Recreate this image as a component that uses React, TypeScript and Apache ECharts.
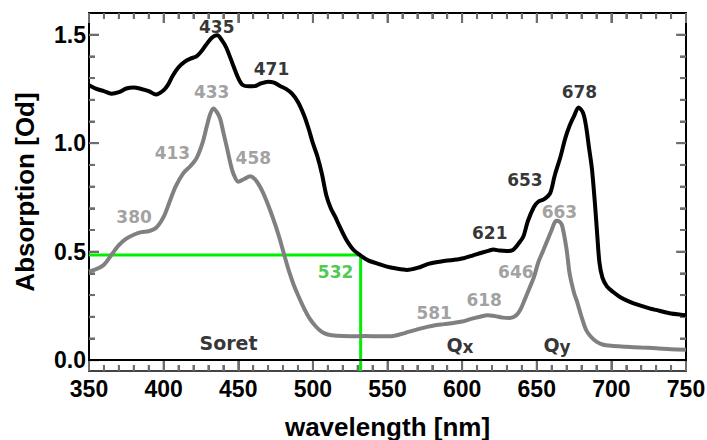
import React, { useEffect, useRef } from "react";
import * as echarts from "echarts";

// Black spectrum (wavelength nm, absorption Od)
const blackX = [350, 355, 360, 365, 370, 375, 380, 385, 390, 395, 400, 403, 406, 410, 414, 418, 422, 426, 430, 433, 436, 439, 442, 446, 450, 453, 457, 461, 465, 470, 474, 478, 482, 486, 490, 494, 497, 500, 503, 506, 509, 512, 515, 518, 522, 527, 532, 537, 542, 549, 556, 563, 570, 578, 586, 594, 601, 607, 613, 618, 621, 625, 630, 634, 637, 641, 644, 648, 651, 655, 659, 662, 666, 669, 672, 675, 678, 681, 683, 685, 687, 689, 690.5, 692, 694, 697, 701, 706, 712, 718, 725, 732, 740, 746, 750];
const blackY = [1.267, 1.25, 1.24, 1.228, 1.235, 1.252, 1.257, 1.25, 1.24, 1.224, 1.244, 1.27, 1.31, 1.35, 1.375, 1.39, 1.4, 1.43, 1.468, 1.49, 1.497, 1.475, 1.44, 1.37, 1.3, 1.268, 1.262, 1.263, 1.275, 1.283, 1.279, 1.264, 1.25, 1.228, 1.19, 1.13, 1.07, 1.0, 0.94, 0.86, 0.76, 0.7, 0.66, 0.615, 0.56, 0.51, 0.482, 0.46, 0.448, 0.432, 0.422, 0.416, 0.425, 0.445, 0.455, 0.462, 0.47, 0.482, 0.495, 0.505, 0.51, 0.505, 0.503, 0.508, 0.53, 0.57, 0.64, 0.705, 0.73, 0.742, 0.77, 0.85, 0.94, 1.02, 1.08, 1.125, 1.165, 1.14, 1.08, 0.98, 0.88, 0.72, 0.58, 0.45, 0.38, 0.34, 0.315, 0.29, 0.27, 0.255, 0.24, 0.228, 0.215, 0.21, 0.207];

// Gray spectrum
const grayX = [350, 355, 360, 365, 370, 375, 380, 385, 390, 395, 400, 404, 408, 413, 418, 422, 426, 429, 431, 433.3, 436, 438, 440, 442.3, 445, 447, 450, 454, 458, 461, 464.6, 468, 471.3, 475, 478, 481, 484, 487, 490, 494, 498, 502, 506, 510, 516, 525, 535, 545, 552, 558, 564, 570, 576, 581, 588, 595, 600, 606, 612, 617, 622, 627, 632, 636, 639, 642, 645, 648, 651, 654, 657, 660, 663, 665, 667, 670, 672, 675, 677, 680, 683, 686, 690, 694, 700, 710, 720, 730, 740, 750];
const grayY = [0.408, 0.42, 0.44, 0.485, 0.53, 0.56, 0.578, 0.59, 0.594, 0.61, 0.66, 0.73, 0.8, 0.86, 0.895, 0.93, 1.0, 1.08, 1.13, 1.16, 1.14, 1.11, 1.05, 0.983, 0.9, 0.855, 0.822, 0.835, 0.848, 0.835, 0.799, 0.75, 0.692, 0.62, 0.554, 0.48, 0.41, 0.35, 0.3, 0.24, 0.19, 0.155, 0.13, 0.118, 0.112, 0.11, 0.111, 0.11, 0.11, 0.118, 0.13, 0.142, 0.152, 0.16, 0.166, 0.172, 0.178, 0.19, 0.2, 0.207, 0.203, 0.196, 0.194, 0.205, 0.232, 0.28, 0.33, 0.38, 0.45, 0.5, 0.55, 0.6, 0.642, 0.64, 0.62, 0.51, 0.4, 0.31, 0.27, 0.2, 0.14, 0.11, 0.085, 0.072, 0.066, 0.062, 0.058, 0.055, 0.05, 0.048];

// Green marker (532 nm laser line)
const greenX = [350, 532, 532];
const greenY = [0.485, 0.485, -0.05];

// Peak annotations: [wavelength, absorption, text]
const blackPeaks = [
  [435.6, 1.534, "435"],
  [472.3, 1.344, "471"],
  [618.5, 0.585, "621"],
  [642.1, 0.83, "653"],
  [678.6, 1.236, "678"],
];
const grayPeaks = [
  [380.2, 0.661, "380"],
  [405.9, 0.953, "413"],
  [432.2, 1.236, "433"],
  [460.1, 0.93, "458"],
  [581.3, 0.217, "581"],
  [614.8, 0.275, "618"],
  [636.0, 0.408, "646"],
  [665.2, 0.684, "663"],
];
const greenLabels = [[515.2, 0.408, "532"]];
const bandLabels = [
  [443.5, 0.079, "Soret"],
  [598.6, 0.071, "Q{s|x}"],
  [663.6, 0.071, "Q{s|y}"],
];

// Axis ticks
const xMin = 350;
const xMax = 750;
const xMajor = 50;
const xMinorSplit = 5;
const xMajorTicks = [350, 400, 450, 500, 550, 600, 650, 700, 750];
const xMinorTicks = [360, 370, 380, 390, 410, 420, 430, 440, 460, 470, 480, 490, 510, 520, 530, 540, 560, 570, 580, 590, 610, 620, 630, 640, 660, 670, 680, 690, 710, 720, 730, 740];
const yMin = -0.05;
const yMax = 1.6;
const yMajorTicks = [0, 0.5, 1.0, 1.5];
const yMinorTicks = [0.1, 0.2, 0.3, 0.4, 0.6, 0.7, 0.8, 0.9, 1.1, 1.2, 1.3, 1.4];

const zip = (xs: number[], ys: number[]) => xs.map((x, i) => [x, ys[i]]);

export default function App() {
  const ref = useRef<HTMLDivElement>(null);
  useEffect(() => {
    document.body.style.margin = "0";
    if (!ref.current) return;
    const chart = echarts.init(ref.current, null, { renderer: "svg" });
    const tickGray = "#6e6e6e";
    const labelFont = { fontFamily: "'Liberation Sans', Arial, sans-serif", fontWeight: "bold" as const, color: "#000" };
    const annFont = { fontFamily: "'DejaVu Sans', Verdana, sans-serif", fontWeight: "bold" as const, fontSize: 17 };

    const labelSeries = (data: any[], color: string, fontSize = 17) => ({
      type: "scatter",
      xAxisIndex: 0,
      yAxisIndex: 0,
      data: data.map((d) => ({ value: [d[0], d[1]], name: d[2] })),
      symbolSize: 1,
      itemStyle: { color: "rgba(0,0,0,0)" },
      silent: true,
      z: 10,
      label: {
        show: true,
        position: "inside",
        formatter: (p: any) => p.name,
        ...annFont,
        fontSize,
        color,
        rich: { s: { ...annFont, fontSize: fontSize - 2, color, padding: [5, 0, 0, 0] } },
      },
    });

    const xAxisFor = (position: "bottom" | "top", lineColor: string, withLabels: boolean) => ({
      type: "value",
      min: xMin,
      max: xMax,
      interval: xMajor,
      position,
      splitLine: { show: false },
      axisLine: { show: true, onZero: false, lineStyle: { color: lineColor, width: 2 } },
      axisTick: { show: true, inside: true, length: 10, lineStyle: { color: tickGray, width: 2 } },
      minorTick: { show: true, splitNumber: xMinorSplit, length: 6, lineStyle: { color: tickGray, width: 2 } },
      axisLabel: withLabels ? { show: true, margin: 6, fontSize: 23, ...labelFont } : { show: false },
      ...(withLabels
        ? { name: "wavelength [nm]", nameLocation: "middle", nameGap: 43, nameTextStyle: { fontSize: 26, ...labelFont } }
        : {}),
    });

    const yAxisFor = (position: "left" | "right", values: number[], len: number, withLine: boolean, withLabels: boolean) => ({
      type: "value",
      min: yMin,
      max: yMax,
      position,
      splitLine: { show: false },
      axisLine: { show: withLine, onZero: false, lineStyle: { color: "#000", width: 2 } },
      axisTick: { show: true, inside: true, length: len, customValues: values, lineStyle: { color: tickGray, width: 2 } },
      axisLabel: withLabels
        ? { show: true, margin: 3, fontSize: 23, ...labelFont, customValues: values, formatter: (v: number) => v.toFixed(1) }
        : { show: false, customValues: values },
      ...(withLabels
        ? { name: "Absorption [Od]", nameLocation: "middle", nameGap: 51, nameRotate: 90, nameTextStyle: { fontSize: 26, ...labelFont } }
        : {}),
    });

    // Frame ticks drawn through the axes' own scales (kind: 0 x-major, 1 x-minor, 2 y-major, 3 y-minor)
    const tickData = [
      ...xMajorTicks.map((v) => [v, 0]),
      ...xMinorTicks.map((v) => [v, 1]),
      ...yMajorTicks.map((v) => [v, 2]),
      ...yMinorTicks.map((v) => [v, 3]),
    ];

    chart.setOption({
      animation: false,
      backgroundColor: "#fff",
      grid: { left: 89, right: 21, top: 13, bottom: 69, containLabel: false, outerBoundsMode: "none" },
      xAxis: [xAxisFor("bottom", "#444", true), xAxisFor("top", "#000", false)],
      yAxis: [
        yAxisFor("left", yMajorTicks, 10, true, true),
        yAxisFor("right", yMajorTicks, 9, true, false),
        yAxisFor("left", yMinorTicks, 6, false, false),
        yAxisFor("right", yMinorTicks, 6, false, false),
      ],
      series: [
        {
          type: "custom",
          xAxisIndex: 0,
          yAxisIndex: 0,
          silent: true,
          z: 2,
          data: tickData,
          renderItem: (_params: any, api: any) => {
            const v = api.value(0);
            const kind = api.value(1);
            const len = kind === 0 || kind === 2 ? 10 : 6;
            const style = { stroke: tickGray, lineWidth: 2 };
            if (kind < 2) {
              const b = api.coord([v, yMin]);
              const t = api.coord([v, yMax]);
              return {
                type: "group",
                children: [
                  { type: "line", shape: { x1: b[0], y1: b[1], x2: b[0], y2: b[1] - len }, style },
                  { type: "line", shape: { x1: t[0], y1: t[1], x2: t[0], y2: t[1] + len }, style },
                ],
              };
            }
            const l = api.coord([xMin, v]);
            const r = api.coord([xMax, v]);
            return {
              type: "group",
              children: [
                { type: "line", shape: { x1: l[0], y1: l[1], x2: l[0] + len, y2: l[1] }, style },
                { type: "line", shape: { x1: r[0], y1: r[1], x2: r[0] - len, y2: r[1] }, style },
              ],
            };
          },
        },
        {
          type: "line",
          xAxisIndex: 0,
          yAxisIndex: 0,
          data: zip(greenX, greenY),
          showSymbol: false,
          symbol: "none",
          lineStyle: { color: "#00ee00", width: 3 },
          z: 3,
        },
        {
          type: "line",
          xAxisIndex: 0,
          yAxisIndex: 0,
          data: zip(grayX, grayY),
          showSymbol: false,
          symbol: "none",
          smooth: 0.3,
          lineStyle: { color: "#808080", width: 4 },
          z: 4,
        },
        {
          type: "line",
          xAxisIndex: 0,
          yAxisIndex: 0,
          data: zip(blackX, blackY),
          showSymbol: false,
          symbol: "none",
          smooth: 0.3,
          lineStyle: { color: "#000", width: 4 },
          z: 5,
          markLine: {
            silent: true,
            symbol: "none",
            label: { show: false },
            lineStyle: { color: "#000", width: 2, type: "solid" },
            data: [{ yAxis: 0 }],
          },
        },
        labelSeries(blackPeaks, "#000"),
        labelSeries(grayPeaks, "#888888"),
        labelSeries(greenLabels, "#22bb22"),
        labelSeries(bandLabels, "#000", 19),
      ],
    });
    return () => chart.dispose();
  }, []);
  return <div ref={ref} style={{ width: 707, height: 440 }} />;
}
